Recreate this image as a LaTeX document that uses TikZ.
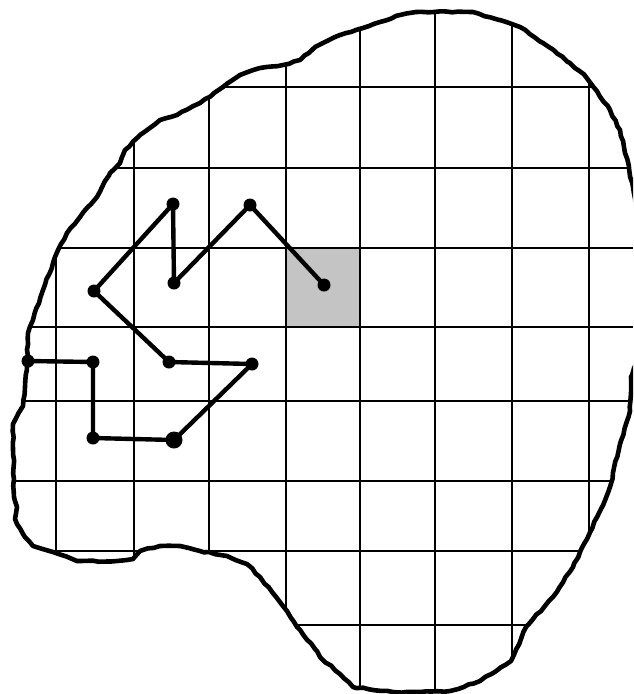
\documentclass[tikz,border=0pt]{standalone}
\usetikzlibrary{decorations.pathmorphing}
\definecolor{cellgray}{HTML}{C4C4C4}
\tikzset{
  gridline/.style={line width=2.8pt, black},
  blobline/.style={line width=4.6pt, black, line join=round, line cap=round,
    decorate, decoration={random steps, segment length=6pt, amplitude=0.7pt}},
  pathline/.style={line width=4.4pt, black, line cap=round},
  dot/.style={circle, fill=black, inner sep=0pt, minimum size=13pt},
  bigdot/.style={circle, fill=black, inner sep=0pt, minimum size=17pt}
}
\def\blobpath{(416,12) -- (473,12) -- (520,27) -- (543,43) -- (570,63) -- (586,77) -- (610,110) -- (620,130) -- (633,187) -- (645,250) -- (645,340) -- (631,377) -- (630,411) -- (620,444) -- (610,487) -- (600,511) -- (580,552) -- (573,567) -- (553,597) -- (526,627) -- (511,661) -- (480,681) -- (450,691) -- (420,692) -- (393,692) -- (353,687) -- (340,674) -- (320,657) -- (315,649) -- (297,627) -- (287,611) -- (260,577) -- (247,564) -- (227,556) -- (200,551) -- (180,546) -- (160,546) -- (140,551) -- (133,559) -- (117,561) -- (77,561) -- (53,552) -- (33,546) -- (23,534) -- (15,519) -- (17,507) -- (14,497) -- (13,424) -- (23,406) -- (25,387) -- (27,362) -- (28,333) -- (33,320) -- (43,290) -- (53,263) -- (58,250) -- (67,233) -- (80,217) -- (97,197) -- (110,173) -- (120,163) -- (125,150) -- (140,135) -- (160,120) -- (177,115) -- (200,103) -- (223,87) -- (240,75) -- (260,68) -- (283,65) -- (300,60) -- (315,47) -- (323,43) -- (340,35) -- (363,28) -- (380,22) -- (400,15) -- cycle}
\begin{document}
\begin{tikzpicture}[x=1pt,y=-1pt]
\pgfmathsetseed{7}
\useasboundingbox (0,0) rectangle (633,694);
\clip (0,0) rectangle (633,694);
% grid inside blob
\begin{scope}
  \clip \blobpath;
  \fill[cellgray] (287,248) rectangle (360,327);
  \foreach \x in {56,134,209,286,360,435,512,589}
    \draw[gridline] (\x,0) -- (\x,694);
  \foreach \y in {87,168,248,327,401,481,551,625}
    \draw[gridline] (0,\y) -- (633,\y);
\end{scope}
% outline
\draw[blobline] \blobpath;
% walk
\node[dot] (K) at (28,361) {};
\node[dot] (J) at (93,362) {};
\node[dot] (I) at (93,438) {};
\node[bigdot] (H) at (174,440) {};
\node[dot] (G) at (252,364) {};
\node[dot] (F) at (169,362) {};
\node[dot] (E) at (94,291) {};
\node[dot] (A) at (173,204) {};
\node[dot] (B) at (174,283) {};
\node[dot] (C) at (250,205) {};
\node[dot] (D) at (324,285) {};
\draw[pathline] (K.center) -- (J.center) -- (I.center) -- (H.center) -- (G.center) -- (F.center) -- (E.center) -- (A.center) -- (B.center) -- (C.center) -- (D.center);
\end{tikzpicture}
\end{document}
